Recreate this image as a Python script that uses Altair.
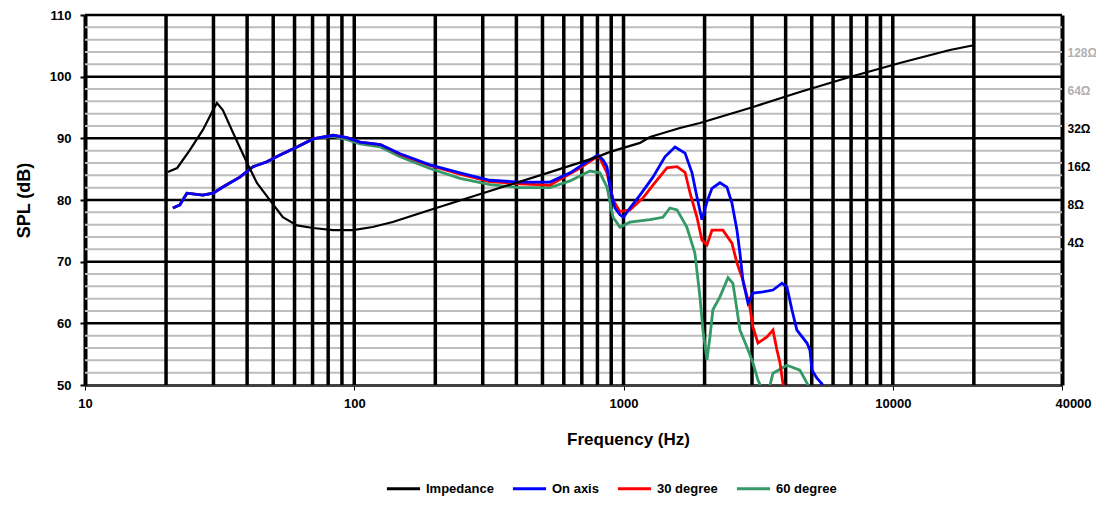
import altair as alt
import pandas as pd

FONT = "Liberation Sans"

series_names = ["Impedance", "On axis", "30 degree", "60 degree"]
series_colors = ["#000000", "#0000FF", "#FF0000", "#339966"]

# Impedance (ohm) vs frequency (Hz)
imp_freq = [20.3, 22.0, 24.5, 27.4, 29.9, 30.9, 32.5, 35.5, 40.0, 43.5, 48.6, 54.3, 61.3, 70.3,
            83.4, 98.9, 117, 139, 191, 348, 520, 796, 891, 1151, 1254, 1620, 1922, 2094, 2946,
            4517, 6928, 10620, 16290, 20180]
imp_ohm = [14.5, 15.6, 21.6, 31.1, 44.7, 50.7, 44.7, 29.4, 17.1, 11.9, 8.7, 6.4, 5.5, 5.25,
           5.06, 5.06, 5.35, 5.86, 7.28, 10.9, 14.2, 19.0, 20.9, 24.6, 27.4, 32.2, 35.3, 37.3, 46.3,
           62.0, 81.4, 104.9, 132.7, 145.3]

# On axis SPL
on_freq = [21.2, 22.5, 23.9, 27.4, 29.9, 32.5, 37.6, 42.1, 47.4, 53.0, 61.3, 70.3, 83.4, 94.0,
           105, 125, 148, 191, 247, 319, 412, 533, 633, 750, 803, 839, 868, 891, 929, 970, 1000,
           1056, 1151, 1286, 1425, 1553, 1692, 1796, 1874, 1955, 2041, 2130, 2280, 2421, 2527,
           2638, 2706, 2775, 2897, 3023, 3296, 3589, 3875, 4045, 4220, 4404, 4800, 4922, 5010,
           5227, 5455, 5600]
on_spl = [78.7, 79.2, 81.1, 80.8, 81.1, 82.1, 83.7, 85.4, 86.2, 87.3, 88.6, 89.9, 90.5, 90.1,
          89.4, 89.0, 87.5, 85.7, 84.4, 83.2, 82.9, 82.9, 84.4, 86.5, 87.3, 86.5, 85.4, 82.1, 78.7,
          77.6, 77.2, 78.7, 80.8, 83.7, 87.0, 88.6, 87.6, 84.4, 80.5, 76.8, 79.7, 81.9, 82.8, 82.1,
          79.5, 75.1, 71.4, 67.0, 63.3, 64.9, 65.1, 65.4, 66.5, 65.9, 62.2, 58.9, 56.8, 55.7, 52.4,
          51.1, 50.2, 49.0]

# 30 degree SPL
d30_freq = [21.2, 22.5, 23.9, 27.4, 29.9, 32.5, 37.6, 42.1, 47.4, 53.0, 61.3, 70.3, 83.4, 94.0,
            105, 125, 148, 191, 247, 319, 412, 533, 689, 796, 817, 868, 914, 970, 1056, 1180,
            1308, 1450, 1580, 1692, 1767, 1874, 1955, 2041, 2130, 2339, 2527, 2638, 2775, 2944,
            3023, 3157, 3408, 3589, 3713, 3811, 3908, 4000]
d30_spl = [78.7, 79.2, 81.1, 80.8, 81.1, 82.1, 83.7, 85.4, 86.2, 87.3, 88.6, 89.9, 90.5, 90.1,
           89.4, 89.0, 87.4, 85.6, 84.2, 83.0, 82.6, 82.4, 85.2, 87.0, 86.8, 84.4, 80.0, 78.1,
           78.4, 80.3, 82.8, 85.2, 85.4, 84.5, 81.1, 77.2, 73.5, 72.7, 75.1, 75.1, 73.0, 69.8,
           67.0, 62.7, 59.4, 56.8, 57.8, 58.9, 55.7, 53.6, 50.3, 48.5]

# 60 degree SPL
d60_freq = [21.2, 22.5, 23.9, 27.4, 29.9, 32.5, 37.6, 42.1, 47.4, 53.0, 61.3, 70.3, 83.4, 94.0,
            105, 125, 148, 191, 247, 319, 412, 533, 633, 750, 817, 868, 914, 970, 1056, 1254,
            1400, 1486, 1580, 1718, 1841, 1922, 1972, 2041, 2094, 2147, 2280, 2444, 2548, 2638,
            2706, 2870, 3023, 3157, 3296, 3450, 3589, 4045, 4517, 4800, 4950]
d60_spl = [78.7, 79.2, 81.1, 80.8, 81.1, 82.1, 83.7, 85.4, 86.2, 87.3, 88.6, 89.9, 90.3, 89.8,
           89.1, 88.6, 87.0, 85.1, 83.5, 82.5, 82.0, 82.0, 83.1, 84.7, 84.4, 82.1, 77.2, 75.6,
           76.4, 76.8, 77.2, 78.7, 78.4, 75.6, 71.4, 64.3, 58.9, 54.1, 57.8, 62.2, 64.3, 67.4,
           66.5, 62.2, 58.9, 56.2, 53.6, 50.8, 48.9, 48.9, 51.9, 53.2, 52.4, 50.3, 49.0]

# Grid / ticks
x_grid_freq = [20, 30, 40, 50, 60, 70, 80, 90, 100, 200, 300, 400, 500, 600, 700, 800, 900,
               1000, 2000, 3000, 4000, 5000, 6000, 7000, 8000, 9000, 10000, 20000]
x_tick_values = [10, 100, 1000, 10000, 42500]
x_tick_labels = ["10", "100", "1000", "10000", "40000"]
y_major = [60, 70, 80, 90, 100, 110]
y_minor = [52, 54, 56, 58, 62, 64, 66, 68, 72, 74, 76, 78, 82, 84, 86, 88, 92, 94, 96, 98,
           102, 104, 106, 108]
y_ticks = [50, 60, 70, 80, 90, 100, 110]
z_ticks = [4, 8, 16, 32, 64, 128]

X_DOMAIN = [10, 42500]
Y_DOMAIN = [50, 110]
Z_DOMAIN = [0.304, 250.5]

on_df = pd.DataFrame({"freq": on_freq, "spl": on_spl, "series": series_names[1]})
d30_df = pd.DataFrame({"freq": d30_freq, "spl": d30_spl, "series": series_names[2]})
d60_df = pd.DataFrame({"freq": d60_freq, "spl": d60_spl, "series": series_names[3]})
imp_df = pd.DataFrame({"freq": imp_freq, "ohm": imp_ohm, "series": series_names[0]})

xscale = alt.Scale(type="log", domain=X_DOMAIN, nice=False)
yscale = alt.Scale(domain=Y_DOMAIN, nice=False, zero=False)
cscale = alt.Scale(domain=series_names, range=series_colors)

label_map = "{" + ",".join(f"'{v}':'{l}'" for v, l in zip(x_tick_values, x_tick_labels)) + "}"

x_axis = alt.Axis(values=x_tick_values, labelExpr=f"{label_map}[''+datum.value]",
                  title="Frequency (Hz)", grid=False, tickSize=5, tickColor="#000",
                  domainColor="#404040", domainWidth=3, labelFont=FONT, labelFontSize=13,
                  labelFontWeight="bold", labelColor="#000", labelPadding=7,
                  labelFlush=False,
                  labelOffset={"expr": "datum.value > 20000 ? 11 : 0"},
                  titleFont=FONT, titleFontSize=17, titleFontWeight="bold",
                  titleColor="#000", titleX=543, titleY=46)
y_axis = alt.Axis(values=y_ticks, title="SPL (dB)", grid=False, tickSize=5,
                  tickColor="#000", tickWidth=2, domainColor="#000", domainWidth=4,
                  labelFont=FONT, labelFontSize=13, labelFontWeight="bold",
                  labelColor="#000", labelPadding=9, titleFont=FONT, titleFontSize=18,
                  titleFontWeight="bold", titleColor="#000", titlePadding=16)
legend = alt.Legend(title=None, orient="none", direction="horizontal",
                    legendX=300, legendY=455, symbolType="stroke",
                    symbolSize=1100, symbolStrokeWidth=3, labelFont=FONT,
                    labelFontSize=13, labelFontWeight="bold",
                    labelColor="#000", columnPadding=12, symbolOffset=0)
color_enc = alt.Color("series:N", scale=cscale, legend=legend)

minor_rules = alt.Chart(pd.DataFrame({"v": y_minor})).mark_rule(color="#bdbdbd", strokeWidth=2).encode(
    y=alt.Y("v:Q", scale=yscale, axis=y_axis)
)
major_rules = alt.Chart(pd.DataFrame({"v": y_major})).mark_rule(color="#000000", strokeWidth=2.5).encode(
    y=alt.Y("v:Q", scale=yscale)
)
vert_rules = alt.Chart(pd.DataFrame({"f": x_grid_freq})).mark_rule(color="#000000", strokeWidth=3.5).encode(
    x=alt.X("f:Q", scale=xscale, axis=x_axis)
)


def spl_layer(df):
    return alt.Chart(df).mark_line(strokeWidth=2.8, clip=True).encode(
        x=alt.X("freq:Q", scale=xscale),
        y=alt.Y("spl:Q", scale=yscale),
        color=color_enc,
        order=alt.Order("freq:Q"),
    )


inner = alt.layer(minor_rules, major_rules, vert_rules,
                  spl_layer(d60_df), spl_layer(d30_df), spl_layer(on_df))

imp_line = alt.Chart(imp_df).mark_line(strokeWidth=2.2, clip=True).encode(
    x=alt.X("freq:Q", scale=xscale),
    y=alt.Y("ohm:Q", scale=alt.Scale(type="log", domain=Z_DOMAIN, nice=False),
            axis=alt.Axis(orient="right", values=z_ticks, title=None, grid=False, tickSize=0,
                          domainColor="#000", domainWidth=4, labelFont=FONT, labelFontSize=12,
                          labelFontWeight="bold",
                          labelColor={"expr": "datum.value > 40 ? '#b0b0b0' : '#000000'"},
                          labelPadding=5, labelExpr="datum.value + 'Ω'")),
    color=color_enc,
    order=alt.Order("freq:Q"),
)

chart = alt.layer(inner, imp_line).resolve_scale(y="independent").properties(
    width=977, height=370,
    padding={"left": 77, "top": 7, "right": 34, "bottom": 114},
    autosize=alt.AutoSizeParams(type="none"),
).configure_view(stroke=None).configure(background="white")

chart.save("out.html", embed_options={"renderer": "svg", "actions": False})
